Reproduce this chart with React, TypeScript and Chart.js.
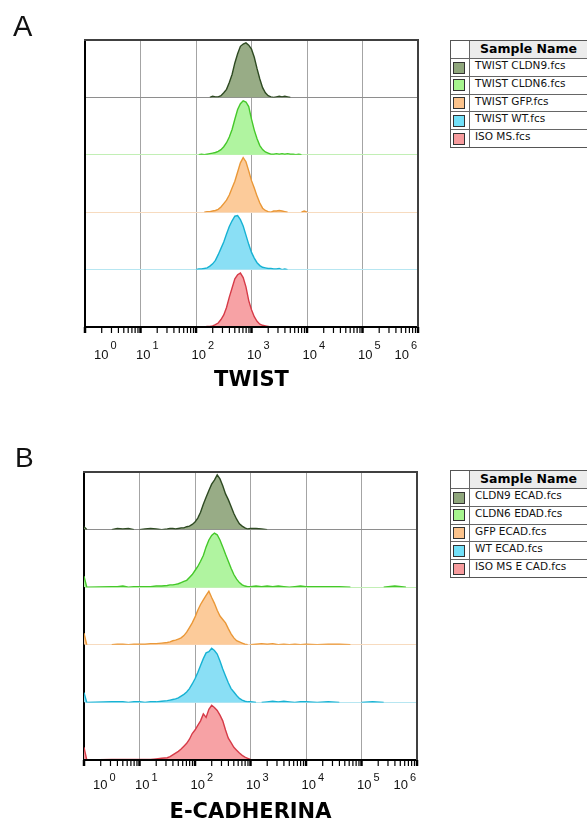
import React, { useEffect, useRef } from "react";
import { Chart, registerables } from "chart.js";

Chart.register(...registerables);

// ---------- shared axis definition ----------
const decadeExponents = [0, 1, 2, 3, 4, 5, 6];
const minorSteps = [2, 3, 4, 5, 6, 7, 8, 9];

// ---------- Panel A : TWIST ----------
const titleA = "TWIST";
const namesA = ["TWIST CLDN9.fcs", "TWIST CLDN6.fcs", "TWIST GFP.fcs", "TWIST WT.fcs", "ISO MS.fcs"];
// log10 bin positions
const binsA = [2.0, 2.05, 2.1, 2.15, 2.2, 2.25, 2.3, 2.35, 2.4, 2.45, 2.5, 2.55, 2.6, 2.65, 2.7, 2.75, 2.8, 2.85, 2.9, 2.95, 3.0, 3.05, 3.1, 3.15, 3.2, 3.25, 3.3, 3.35, 3.4, 3.45, 3.5, 3.55, 3.6, 3.65, 3.7, 3.75, 3.8, 3.85, 3.9, 3.95, 4.0];
const twistCldn9 = [0, 0, 0, 0, 0, 0, 2, 1, 1, 3, 8, 14, 26, 40, 60, 76, 89, 93, 95, 91, 84, 70, 50, 32, 17, 8, 3, 1, 0, 1, 2, 1, 2, 1, 0, 0, 0, 0, 0, 0, 0];
const twistCldn6 = [0, 0, 1, 0, 1, 2, 3, 4, 6, 9, 14, 21, 31, 44, 62, 79, 89, 94, 92, 84, 62, 43, 28, 16, 9, 5, 3, 1, 1, 2, 1, 2, 1, 2, 1, 1, 0, 1, 0, 0, 0];
const twistGfp = [0, 0, 0, 0, 1, 1, 2, 3, 5, 9, 15, 21, 30, 42, 54, 70, 86, 95, 88, 72, 55, 42, 28, 16, 7, 3, 1, 0, 2, 2, 3, 2, 1, 0, 0, 0, 0, 0, 0, 2, 0];
const twistWt = [0, 1, 1, 2, 3, 6, 10, 16, 26, 37, 48, 62, 75, 85, 93, 94, 87, 76, 60, 44, 30, 20, 12, 7, 4, 3, 2, 2, 1, 1, 2, 0, 1, 0, 0, 0, 0, 0, 0, 0, 0];
const twistIso = [0, 0, 0, 0, 1, 1, 2, 4, 7, 13, 21, 34, 52, 68, 84, 91, 94, 86, 70, 46, 30, 18, 10, 5, 3, 2, 1, 0, 0, 0, 0, 0, 0, 0, 0, 0, 0, 0, 0, 0, 0];

// ---------- Panel B : E-CADHERINA ----------
const titleB = "E-CADHERINA";
const namesB = ["CLDN9 ECAD.fcs", "CLDN6 EDAD.fcs", "GFP ECAD.fcs", "WT ECAD.fcs", "ISO MS E CAD.fcs"];
const binsB = [0, 0.05, 0.5, 0.6, 0.7, 0.8, 0.9, 1.0, 1.1, 1.2, 1.3, 1.4, 1.5, 1.55, 1.6, 1.65, 1.7, 1.75, 1.8, 1.85, 1.9, 1.95, 2.0, 2.05, 2.1, 2.15, 2.2, 2.25, 2.3, 2.35, 2.4, 2.45, 2.5, 2.55, 2.6, 2.65, 2.7, 2.75, 2.8, 2.85, 2.9, 2.95, 3.0, 3.1, 3.2, 3.3, 3.4, 3.5, 3.6, 3.7, 3.8, 3.9, 4.0, 4.2, 4.4, 4.6, 4.8, 5.0, 5.2, 5.4, 5.6, 5.8, 6.0];
const ecadCldn9 = [5, 0, 0, 2, 1, 2, 0, 0, 1, 2, 1, 0, 1, 2, 2, 1, 2, 3, 3, 5, 6, 9, 13, 20, 30, 44, 56, 68, 79, 86, 95, 88, 76, 62, 52, 40, 28, 18, 10, 6, 3, 1, 2, 2, 1, 0, 0, 0, 0, 0, 0, 0, 0, 0, 0, 0, 0, 0, 0, 0, 0, 0, 0];
const ecadCldn6 = [19, 0, 1, 1, 2, 0, 1, 1, 1, 1, 2, 2, 3, 4, 4, 5, 6, 8, 10, 12, 17, 22, 29, 36, 45, 55, 70, 82, 90, 94, 91, 82, 70, 57, 45, 33, 22, 14, 8, 4, 2, 1, 1, 2, 1, 2, 1, 2, 1, 0, 1, 2, 1, 1, 1, 1, 0, 0, 0, 0, 2, 0, 0];
const ecadGfp = [20, 0, 0, 1, 1, 0, 1, 1, 1, 2, 2, 3, 4, 5, 7, 8, 10, 12, 16, 22, 30, 38, 48, 60, 70, 78, 86, 93, 82, 72, 60, 50, 44, 38, 28, 19, 12, 7, 5, 3, 1, 0, 0, 1, 2, 1, 2, 0, 1, 0, 1, 0, 1, 0, 1, 1, 0, 0, 0, 0, 0, 0, 0];
const ecadWt = [17, 0, 1, 1, 1, 0, 1, 1, 0, 1, 1, 2, 3, 4, 5, 6, 8, 11, 14, 18, 24, 32, 41, 52, 64, 76, 86, 88, 94, 90, 84, 72, 58, 46, 34, 24, 18, 12, 7, 4, 2, 1, 1, 0, 0, 1, 2, 1, 2, 1, 0, 1, 1, 0, 1, 0, 0, 0, 1, 0, 0, 0, 0];
const ecadIso = [22, 0, 1, 1, 1, 1, 1, 1, 1, 1, 2, 3, 4, 6, 9, 12, 15, 19, 24, 29, 36, 46, 52, 60, 68, 80, 74, 88, 95, 91, 86, 78, 68, 52, 38, 30, 22, 17, 12, 8, 5, 3, 1, 0, 0, 0, 0, 0, 0, 0, 0, 0, 0, 0, 0, 0, 0, 0, 0, 0, 0, 0, 0];

// ---------- styles ----------
const lineColors = ["#2e4a22", "#45c82a", "#ea9838", "#17b2d3", "#d63b48"];
const fillColors = ["#98ac86", "#b0f4a0", "#fccb9a", "#8adff5", "#f7a2a5"];
const swatchColors = ["#8fa67c", "#a6f58e", "#fcc38c", "#72e0f8", "#f79b9d"];
const baselineColors = ["#8e8e8e", "#c2efb5", "#f7dbbf", "#b7e6f1", "rgba(0,0,0,0)"];

const geomA = { canvasTop: 0, canvasHeight: 410, left: 85, right: 418, top: 40, bottom: 327, titleCenter: 381, labelOffset: 28, expOffset: -9 };
const geomB = { canvasTop: 410, canvasHeight: 420, left: 84, right: 417, top: 472, bottom: 760, titleCenter: 813, labelOffset: 25, expOffset: -7.5 };

function buildAxisTicks() {
  const ticks: any[] = [];
  decadeExponents.forEach((e, i) => {
    ticks.push({ value: Math.pow(10, e), major: true });
    if (i < decadeExponents.length - 1) {
      minorSteps.forEach((m) => ticks.push({ value: m * Math.pow(10, e), major: false }));
    }
  });
  return ticks;
}

const axisDecor = {
  id: "axisDecor",
  afterDraw(chart: any, _args: any, opts: any) {
    const { ctx, chartArea: a } = chart;
    const xs = chart.scales.x;
    ctx.save();
    ctx.strokeStyle = "#404040";
    ctx.lineWidth = 2;
    ctx.beginPath();
    ctx.moveTo(a.left - 1, a.top);
    ctx.lineTo(a.right, a.top);
    ctx.lineTo(a.right, a.bottom + 1);
    ctx.stroke();
    ctx.strokeStyle = "#000";
    xs.ticks.forEach((t: any) => {
      const px = xs.getPixelForValue(t.value);
      ctx.lineWidth = t.major ? 2.5 : 1.2;
      ctx.beginPath();
      ctx.moveTo(px, a.bottom);
      ctx.lineTo(px, a.bottom + 6);
      ctx.stroke();
    });
    ctx.fillStyle = "#111";
    ctx.textBaseline = "middle";
    ctx.textAlign = "left";
    decadeExponents.forEach((e) => {
      const px = xs.getPixelForValue(Math.pow(10, e));
      ctx.font = "13px 'Liberation Sans'";
      const wb = ctx.measureText("10").width;
      ctx.font = "11px 'Liberation Sans'";
      const we = ctx.measureText(String(e)).width;
      const total = wb + 2 + we;
      let lx = px - 4.5;
      lx = Math.max(lx, a.left + 9);
      lx = Math.min(lx, a.right - 1 - total);
      ctx.font = "13px 'Liberation Sans'";
      ctx.fillText("10", lx, a.bottom + opts.labelOffset);
      ctx.font = "11px 'Liberation Sans'";
      ctx.fillText(String(e), lx + wb + 2, a.bottom + opts.labelOffset + opts.expOffset);
    });
    ctx.restore();
  },
};

function HistogramPanel({ geom, bins, series, names, title }: any) {
  const ref = useRef<HTMLCanvasElement | null>(null);
  useEffect(() => {
    const canvas = ref.current;
    if (!canvas) return;
    const lineH = 21 * 1.2;
    const axisH = geom.canvasHeight - (geom.bottom - geom.canvasTop);
    const padBottom = geom.canvasHeight - (geom.titleCenter - geom.canvasTop) - lineH / 2;
    const padTop = axisH - lineH - padBottom;
    const axisTicks = buildAxisTicks();

    const scales: any = {
      x: {
        type: "logarithmic",
        position: "bottom",
        min: 1,
        max: 1e6,
        afterBuildTicks: (s: any) => {
          s.ticks = axisTicks.map((t) => ({ ...t }));
        },
        ticks: { display: false },
        grid: {
          color: (c: any) => (c.tick && c.tick.major ? "#a4a4a4" : "rgba(0,0,0,0)"),
          lineWidth: 1,
          drawTicks: false,
        },
        border: { display: true, color: "#000", width: 2, z: 1 },
        title: {
          display: true,
          text: title,
          color: "#000",
          font: { family: "'DejaVu Sans'", weight: "bold", size: 21 },
          padding: { top: padTop, bottom: padBottom },
        },
      },
    };
    series.forEach((_: any, i: number) => {
      scales["y" + i] = {
        type: "linear",
        position: "left",
        stack: "lanes",
        stackWeight: 1,
        weight: series.length - i,
        min: 0,
        max: 100,
        afterBuildTicks: (s: any) => {
          s.ticks = [{ value: 0 }];
        },
        ticks: { display: false },
        grid: { color: baselineColors[i], lineWidth: 1, drawTicks: false },
        border: { display: true, color: "#000", width: 2 },
      };
    });

    const chart = new Chart(canvas, {
      type: "line",
      data: {
        datasets: series.map((vals: number[], i: number) => ({
          label: names[i],
          data: bins.map((b: number, j: number) => ({ x: Math.pow(10, b), y: vals[j] })),
          xAxisID: "x",
          yAxisID: "y" + i,
          borderColor: lineColors[i],
          backgroundColor: fillColors[i],
          borderWidth: 1.4,
          fill: "origin",
          pointRadius: 0,
          tension: 0,
          segment: {
            borderColor: (c: any) =>
              c.p0.parsed.y === 0 && c.p1.parsed.y === 0 ? "rgba(0,0,0,0)" : undefined,
          },
        })),
      },
      options: {
        animation: false,
        responsive: false,
        maintainAspectRatio: false,
        layout: {
          padding: { left: geom.left, right: 587 - geom.right, top: geom.top - geom.canvasTop, bottom: 0 },
        },
        scales,
        plugins: {
          legend: { display: false },
          tooltip: { enabled: false },
          title: { display: false },
          axisDecor: { labelOffset: geom.labelOffset, expOffset: geom.expOffset },
        } as any,
      },
      plugins: [axisDecor as any],
    } as any);
    return () => chart.destroy();
  }, []);
  return (
    <canvas
      ref={ref}
      width={587}
      height={geom.canvasHeight}
      style={{ position: "absolute", left: 0, top: geom.canvasTop, width: 587, height: geom.canvasHeight }}
    />
  );
}

function SampleLegend({ top, names }: { top: number; names: string[] }) {
  const left = 450;
  const width = 150;
  const headH = 17;
  const rowH = 17.8;
  const colW = 18;
  const height = headH + 2 + rowH * names.length;
  return (
    <div
      style={{
        position: "absolute",
        left,
        top,
        width,
        height,
        border: "1px solid #555",
        boxSizing: "border-box",
        background: "#fff",
      }}
    >
      <div style={{ position: "absolute", left: colW + 1, top: 0, right: 0, height: headH, background: "#ececec" }} />
      <div style={{ position: "absolute", left: colW, top: 0, width: 1, bottom: 0, background: "#666" }} />
      <div
        style={{
          position: "absolute",
          left: 29,
          top: 0,
          height: headH,
          lineHeight: headH + "px",
          font: "bold 12.5px 'DejaVu Sans'",
          color: "#000",
          whiteSpace: "nowrap",
        }}
      >
        Sample Name
      </div>
      {names.map((n, k) => {
        const rt = headH + k * rowH;
        return (
          <React.Fragment key={n}>
            <div style={{ position: "absolute", left: 0, right: 0, top: rt, height: 1, background: "#666" }} />
            <div
              style={{
                position: "absolute",
                left: 2,
                top: rt + 3.5,
                width: 12,
                height: 12,
                boxSizing: "border-box",
                border: "1px solid #333",
                background: swatchColors[k],
              }}
            />
            <div
              style={{
                position: "absolute",
                left: 24,
                top: rt + 1,
                height: rowH - 1,
                lineHeight: rowH - 1 + "px",
                font: "10.5px 'DejaVu Sans'",
                color: "#111",
                whiteSpace: "nowrap",
              }}
            >
              {n}
            </div>
          </React.Fragment>
        );
      })}
    </div>
  );
}

export default function App() {
  const letterStyle: any = {
    position: "absolute",
    fontFamily: "'Liberation Sans'",
    lineHeight: 1,
    color: "#111",
  };
  return (
    <div style={{ position: "absolute", left: 0, top: 0, width: 587, height: 821, overflow: "hidden", background: "#fff" }}>
      <HistogramPanel geom={geomA} bins={binsA} series={[twistCldn9, twistCldn6, twistGfp, twistWt, twistIso]} names={namesA} title={titleA} />
      <HistogramPanel geom={geomB} bins={binsB} series={[ecadCldn9, ecadCldn6, ecadGfp, ecadWt, ecadIso]} names={namesB} title={titleB} />
      <div style={{ ...letterStyle, left: 13, top: 11.5, fontSize: 29 }}>A</div>
      <div style={{ ...letterStyle, left: 15, top: 444, fontSize: 28 }}>B</div>
      <SampleLegend top={40} names={namesA} />
      <SampleLegend top={470} names={namesB} />
    </div>
  );
}
